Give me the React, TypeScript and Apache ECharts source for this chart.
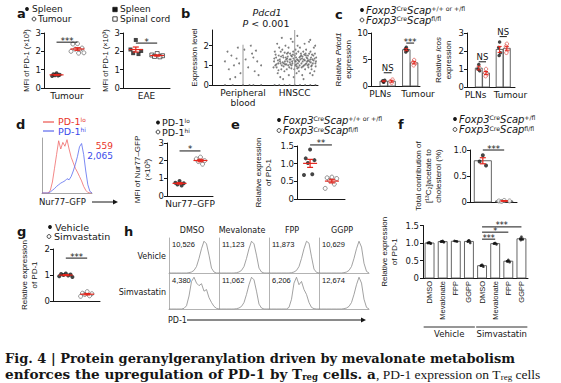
import React, { useEffect, useRef } from "react";
import * as echarts from "echarts";

// ===== Panel a: MFI of PD-1 (x10^3) =====
const aTumourSpleen = [0.8, 0.75, 0.72, 0.7, 0.68, 0.65];
const aTumourTumour = [2.42, 2.4, 2.18, 2.12, 2.08, 2.0, 1.92, 1.9];
const aEaeSpleen = [2.62, 2.1, 2.02, 1.9, 1.85];
const aEaeSpinalCord = [1.88, 1.8, 1.76, 1.72, 1.7];
const aYTicks = [0, 1, 2, 3];

// ===== Panel b: Pdcd1 expression level, [jitter, expression] =====
const bCategories = ["Peripheral\nblood", "HNSCC"];
const bBlood = [
  [-0.7, 1.2], [-0.55, 0.8], [-0.45, 1.5], [-0.35, 1.0], [-0.2, 1.9], [-0.1, 0.6], [0.1, 1.3], [0.2, 0.9],
  [0.35, 1.6], [0.45, 0.7], [0.55, 1.2], [0.7, 1.0], [-0.6, 1.7], [-0.3, 0.4], [0.3, 2.0], [0.6, 0.5],
  [-0.15, 1.1], [0.05, 1.8], [0.4, 1.4], [-0.5, 0.3], [0.0, 0.0], [-0.4, 0.0], [0.4, 0.0], [-0.7, 0.0],
  [0.7, 0.0], [0.25, 0.0], [-0.25, 1.35], [0.5, 1.75],
];
const bHnscc = [
  [-0.8, 1.2], [-0.7, 0.9], [-0.62, 1.5], [-0.55, 1.1], [-0.48, 1.8], [-0.4, 0.7], [-0.33, 1.3], [-0.25, 1.0],
  [-0.18, 1.6], [-0.1, 1.2], [-0.02, 0.8], [0.05, 1.4], [0.12, 1.1], [0.2, 1.9], [0.27, 0.9], [0.35, 1.3],
  [0.42, 1.6], [0.5, 1.0], [0.57, 1.2], [0.65, 0.8], [0.72, 1.5], [0.8, 1.1], [-0.77, 1.7], [-0.66, 0.6],
  [-0.58, 1.3], [-0.5, 1.0], [-0.44, 1.4], [-0.36, 2.0], [-0.28, 1.2], [-0.21, 0.9], [-0.14, 1.5], [-0.06, 1.7],
  [0.02, 1.0], [0.09, 1.3], [0.16, 0.7], [0.24, 1.6], [0.31, 1.2], [0.38, 2.1], [0.46, 1.4], [0.53, 0.9],
  [0.61, 1.7], [0.68, 1.3], [0.76, 0.7], [0.83, 1.4], [-0.82, 0.9], [-0.72, 1.4], [-0.6, 1.9], [-0.52, 0.8],
  [-0.42, 1.1], [-0.3, 1.6], [-0.23, 0.5], [-0.16, 1.3], [-0.08, 2.2], [0.0, 1.5], [0.07, 0.6], [0.14, 1.7],
  [0.22, 1.3], [0.29, 0.5], [0.36, 1.0], [0.44, 1.8], [0.51, 1.5], [0.59, 0.6], [0.66, 1.0], [0.74, 1.9],
  [0.82, 1.2], [-0.75, 1.0], [-0.64, 1.1], [-0.56, 0.4], [-0.46, 1.5], [-0.38, 1.2], [-0.31, 0.8], [-0.24, 1.9],
  [-0.12, 1.0], [-0.04, 0.4], [0.04, 1.2], [0.11, 2.0], [0.18, 1.4], [0.26, 1.1], [0.33, 1.7], [0.4, 0.8],
  [0.48, 1.2], [0.55, 2.2], [0.63, 1.4], [0.7, 1.1], [0.78, 1.6], [-0.68, 2.1], [-0.54, 1.7], [-0.45, 0.3],
  [-0.35, 1.4], [-0.2, 1.3], [-0.09, 1.1], [0.03, 1.8], [0.15, 0.9], [0.25, 1.5], [0.34, 0.3], [0.45, 1.1],
  [0.56, 1.6], [0.69, 0.5], [0.79, 2.0], [-0.78, 0.0], [-0.6, 0.0], [-0.4, 0.0], [-0.2, 0.0], [0.0, 0.0],
  [0.2, 0.0], [0.4, 0.0], [0.6, 0.0], [0.8, 0.0], [-0.5, 2.4], [0.1, 2.5], [0.6, 2.3], [-0.15, 2.35],
  [-0.65, 1.25], [-0.37, 1.05], [-0.11, 1.45], [0.13, 1.25], [0.37, 1.55], [0.62, 1.15], [0.08, 0.95], [-0.26, 1.65],
  [-0.79, 1.35], [-0.71, 1.05], [-0.63, 0.75], [-0.53, 1.45], [-0.47, 1.15], [-0.39, 1.65], [-0.32, 1.05], [-0.27, 1.45],
  [-0.19, 1.15], [-0.13, 0.85], [-0.05, 1.35], [0.01, 1.2], [0.06, 1.6], [0.1, 0.85], [0.17, 1.2], [0.21, 1.45],
  [0.28, 1.35], [0.32, 0.95], [0.39, 1.25], [0.43, 1.5], [0.49, 1.35], [0.54, 1.05], [0.6, 1.3], [0.67, 1.55],
  [0.73, 1.25], [0.81, 0.95], [-0.74, 1.55], [-0.57, 1.2], [-0.43, 0.95], [-0.29, 1.35], [-0.17, 1.05], [-0.07, 1.55],
  [0.05, 1.05], [0.19, 1.0], [0.3, 1.45], [0.41, 1.05], [0.52, 1.25], [0.64, 0.95], [0.77, 1.35], [-0.01, 1.25],
];
const bLineTops = [2.05, 2.8];
const bYTicks = [0, 1, 2];

// ===== Panel c: relative expression (bars = means) =====
const cSites = ["PLNs", "Tumour"];
const cPdcd1Control = [[0.7, 1.0, 1.1, 0.8], [7.3, 7.0, 6.7, 6.4]];
const cPdcd1Scap = [[0.6, 0.9, 1.2], [4.9, 4.5, 4.2, 3.9]];
const cIcosControl = [[1.25, 1.0, 0.9], [2.5, 2.2, 1.9, 1.75]];
const cIcosScap = [[1.0, 0.8, 0.7, 0.6], [2.4, 2.25, 2.05, 1.9]];
const cPdcd1Ticks = [0, 5, 10];
const cIcosTicks = [0, 1, 2, 3];

// ===== Panel d =====
const dHistPd1Lo = [0, 0, 0, 0, 5, 20, 45, 70, 95, 80, 92, 85, 97, 80, 65, 55, 45, 38, 30, 22, 12, 5, 1, 0, 0];
const dHistPd1Hi = [0, 0, 0, 0, 2, 5, 8, 12, 15, 18, 20, 22, 26, 24, 30, 40, 52, 66, 84, 90, 70, 40, 15, 3, 0];
const dMfiLabels = ["559", "2,065"];
const dNur77Lo = [0.85, 0.75, 0.72, 0.65, 0.6];
const dNur77Hi = [2.2, 2.1, 2.0, 1.95, 1.8];
const dYTicks = [0, 1, 2, 3];

// ===== Panel e =====
const eControl = [1.4, 1.15, 1.1, 1.02, 0.7, 0.68];
const eScap = [0.62, 0.6, 0.58, 0.52, 0.42, 0.3];
const eYTicks = [0, 0.5, 1.0, 1.5];

// ===== Panel f =====
const fControl = [0.9, 0.78, 0.7];
const fScap = [0.03, 0.02, 0.02, 0.01];
const fYTicks = [0, 0.5, 1.0];

// ===== Panel g =====
const gVehicle = [1.06, 1.04, 1.02, 1.0, 0.98, 0.95, 0.92];
const gSimvastatin = [0.36, 0.3, 0.28, 0.25, 0.2, 0.18];
const gYTicks = [0, 1, 2];

// ===== Panel h =====
const hTreatments = ["DMSO", "Mevalonate", "FPP", "GGPP"];
const hConditions = ["Vehicle", "Simvastatin"];
const hMfi = [
  ["10,526", "11,123", "11,873", "10,629"],
  ["4,380", "11,062", "6,206", "12,674"],
];
const hHist = [
  [
    [0, 0, 0, 0, 0, 0, 0, 0, 1, 3, 8, 20, 45, 75, 98, 90, 55, 15, 3, 0, 0],
    [0, 0, 0, 0, 0, 0, 0, 1, 3, 8, 20, 45, 75, 98, 90, 55, 15, 3, 0, 0, 0],
    [0, 0, 0, 0, 0, 0, 0, 0, 0, 1, 3, 8, 20, 45, 75, 98, 92, 50, 12, 2, 0],
    [0, 0, 0, 0, 0, 0, 0, 0, 0, 0, 1, 3, 8, 20, 45, 75, 98, 80, 30, 5, 0],
  ],
  [
    [0, 0, 0, 0, 0, 0, 2, 10, 40, 85, 98, 80, 72, 78, 55, 60, 35, 20, 8, 2, 0],
    [0, 0, 0, 0, 0, 0, 0, 1, 3, 8, 20, 45, 75, 98, 90, 55, 15, 3, 0, 0, 0],
    [0, 0, 0, 0, 0, 0, 0, 0, 5, 30, 80, 98, 75, 85, 60, 45, 20, 5, 1, 0, 0],
    [0, 0, 0, 0, 0, 0, 0, 0, 0, 0, 1, 3, 8, 20, 45, 75, 98, 80, 30, 5, 0],
  ],
];
const hBarPoints = [
  [1.02, 1.0, 0.98, 1.01, 0.99, 1.0],
  [1.06, 1.04, 1.02, 1.05, 1.03, 1.04],
  [1.05, 1.06, 1.04],
  [1.08, 1.04, 1.0, 1.06],
  [0.38, 0.35, 0.32, 0.36],
  [1.0, 0.98, 0.96, 0.99],
  [0.52, 0.48, 0.45, 0.47],
  [1.18, 1.12, 1.1, 1.08],
];
const hYTicks = [0, 0.5, 1.0, 1.5];
const hSig = [
  [4, 7, 1.46, "***"],
  [4, 6, 1.31, "*"],
  [4, 5, 1.11, "***"],
];

// ===== styling =====
const INK = "#161616";
const RED = "#e4261d";
const GREY = "#8f8f8f";
const HF = "'DejaVu Sans', 'Liberation Sans', sans-serif";
const VF = "'Liberation Sans', Arial, sans-serif";
const SERIF = "'DejaVu Serif', 'Liberation Serif', serif";
const SERIF_R = "'Liberation Serif', 'DejaVu Serif', serif";
const JIT = [0, -1, 1, -0.5, 0.5, -1.4, 1.4, 0.25];

function meanSem(v: number[]) {
  const n = v.length;
  const m = v.reduce((s, x) => s + x, 0) / n;
  const sd = Math.sqrt(v.reduce((s, x) => s + (x - m) ** 2, 0) / Math.max(1, n - 1));
  return [m, sd / Math.sqrt(n)];
}

const fmt1 = (v: number) => (v === 0 ? "0" : v.toFixed(1));

function buildOption() {
  const grid: any[] = [];
  const xAxis: any[] = [];
  const yAxis: any[] = [];
  const series: any[] = [];
  const els: any[] = [];

  const nameRich = (size: number) => ({
    i: { fontStyle: "italic", fontSize: size, fontFamily: VF, color: INK, lineHeight: 10 },
    n: { fontSize: size, fontFamily: VF, color: INK, lineHeight: 10 },
  });

  function panel(p: any) {
    const gi = grid.length;
    grid.push({ left: p.l, top: p.t, width: p.w, height: p.h });
    const lc = p.lineColor || INK;
    const lw = p.lineWidth || 1;
    xAxis.push({
      gridIndex: gi, type: "value", min: p.xmin, max: p.xmax,
      splitLine: { show: false },
      axisLine: { show: true, onZero: false, lineStyle: { color: lc, width: lw } },
      axisTick: { show: false },
      axisLabel: p.xlabels
        ? {
            show: true,
            showMinLabel: true, showMaxLabel: true, hideOverlap: false,
            customValues: p.xlabels.map((d: any) => d[0]),
            formatter: (v: number) => {
              const f = p.xlabels.find((d: any) => Math.abs(d[0] - v) < 1e-6);
              return f ? f[1] : "";
            },
            fontSize: p.xfs || 9, fontFamily: p.xff || HF, color: INK,
            margin: p.xmargin ?? 3, rotate: p.xrot || 0, lineHeight: 10,
          }
        : { show: false },
    });
    yAxis.push({
      gridIndex: gi, type: "value", min: p.ymin, max: p.ymax,
      splitLine: { show: false },
      axisLine: { show: true, onZero: false, lineStyle: { color: lc, width: lw } },
      axisTick: p.yticks
        ? { show: true, length: 3, customValues: p.yticks, lineStyle: { color: lc, width: lw } }
        : { show: false },
      axisLabel: p.yticks
        ? { show: true, showMinLabel: true, showMaxLabel: true, customValues: p.yticks,
            formatter: p.yfmt || ((v: number) => String(v)),
            fontSize: 8.5, fontFamily: HF, color: INK, margin: p.ymargin ?? 3 }
        : { show: false },
      name: p.yname || "", nameLocation: "middle", nameGap: p.ynameGap || 14, nameRotate: 90,
      nameTextStyle: { fontSize: p.ynameSize || 8, fontFamily: VF, color: INK, lineHeight: 10, rich: nameRich(p.ynameSize || 8) },
    });
    return gi;
  }

  function dots(gi: number, cx: number, vals: number[], o: any = {}) {
    const c = o.color || INK;
    series.push({
      type: "scatter", xAxisIndex: gi, yAxisIndex: gi, silent: true, z: 3,
      symbol: o.square ? "rect" : "circle", symbolSize: o.size || 4,
      itemStyle: { color: o.hollow ? "#fff" : c, borderColor: c, borderWidth: o.hollow ? 0.8 : 0 },
      data: vals.map((v, i) => [cx + JIT[i % JIT.length] * (o.spread ?? 0.2), v]),
    });
  }

  function meanMark(gi: number, cx: number, vals: number[], o: any = {}) {
    const [m, s] = meanSem(vals);
    const color = o.color || RED;
    const halfW = o.halfW ?? 7;
    const cap = o.cap ?? 3;
    const lw = o.lw ?? 1.2;
    series.push({
      type: "custom", xAxisIndex: gi, yAxisIndex: gi, silent: true, z: 6,
      data: [[cx, m, s]],
      renderItem: (_p: any, api: any) => {
        const x = api.value(0), mv = api.value(1), sv = api.value(2);
        const c = api.coord([x, mv]);
        const hi = api.coord([x, mv + sv]);
        const lo = api.coord([x, mv - sv]);
        const st = { stroke: color, lineWidth: lw };
        const ch: any[] = [
          { type: "line", shape: { x1: c[0], y1: hi[1], x2: c[0], y2: lo[1] }, style: st },
          { type: "line", shape: { x1: c[0] - cap, y1: hi[1], x2: c[0] + cap, y2: hi[1] }, style: st },
          { type: "line", shape: { x1: c[0] - cap, y1: lo[1], x2: c[0] + cap, y2: lo[1] }, style: st },
        ];
        if (halfW > 0) ch.push({ type: "line", shape: { x1: c[0] - halfW, y1: c[1], x2: c[0] + halfW, y2: c[1] }, style: st });
        return { type: "group", children: ch };
      },
    });
  }

  function bars(gi: number, items: number[][], halfW: number) {
    series.push({
      type: "custom", xAxisIndex: gi, yAxisIndex: gi, silent: true, z: 2,
      data: items,
      renderItem: (_p: any, api: any) => {
        const x = api.value(0), v = api.value(1);
        const a = api.coord([x - halfW, v]);
        const b = api.coord([x + halfW, 0]);
        return { type: "rect", shape: { x: a[0], y: a[1], width: b[0] - a[0], height: b[1] - a[1] },
          style: { fill: "#fff", stroke: "#555", lineWidth: 0.9 } };
      },
    });
  }

  function sig(gi: number, x1: number, x2: number, y: number, text: string, size = 8.5) {
    series.push({
      type: "custom", xAxisIndex: gi, yAxisIndex: gi, silent: true, z: 6,
      data: [[x1, x2, y]],
      renderItem: (_p: any, api: any) => {
        const a = api.coord([api.value(0), api.value(2)]);
        const b = api.coord([api.value(1), api.value(2)]);
        return {
          type: "group",
          children: [
            { type: "line", shape: { x1: a[0], y1: a[1], x2: b[0], y2: b[1] }, style: { stroke: INK, lineWidth: 1 } },
            { type: "text", x: (a[0] + b[0]) / 2, y: a[1] + (text.startsWith("*") ? 3 : -0.5),
              style: { text, fill: INK, fontSize: size, fontFamily: HF, align: "center", textAlign: "center",
                verticalAlign: "bottom", textVerticalAlign: "bottom" } },
          ],
        };
      },
    });
  }

  function curve(gi: number, ys: number[], color: string, width = 0.8) {
    series.push({
      type: "line", xAxisIndex: gi, yAxisIndex: gi, silent: true, z: 2, showSymbol: false, symbol: "none",
      lineStyle: { color, width }, data: ys.map((y, i) => [i, y]),
    });
  }

  const T = (x: number, y: number, text: string, o: any = {}) => ({
    type: "text", x, y, silent: true, z: 20,
    style: {
      text, fill: o.fill || INK, fontSize: o.size || 9, fontFamily: o.font || HF,
      fontWeight: o.weight || "normal", fontStyle: o.fstyle || "normal",
      align: o.align || "left", textAlign: o.align || "left",
      verticalAlign: o.va || "middle", textVerticalAlign: o.va || "middle",
      rich: o.rich,
    },
  });
  const legRich = (size: number, fill = INK) => ({
    i: { fontStyle: "italic", fontSize: size, fontFamily: HF, fill, color: fill, lineHeight: 9 },
    n: { fontSize: size, fontFamily: HF, fill, color: fill, lineHeight: 9 },
    s: { fontSize: size * 0.62, fontFamily: HF, fill, color: fill, verticalAlign: "top", lineHeight: 9 },
  });
  const dot = (x: number, y: number) => ({ type: "circle", shape: { cx: x, cy: y, r: 1.9 }, style: { fill: INK }, silent: true, z: 20 });
  const ring = (x: number, y: number) => ({ type: "circle", shape: { cx: x, cy: y, r: 1.9 }, style: { fill: "#fff", stroke: INK, lineWidth: 0.8 }, silent: true, z: 20 });
  const sq = (x: number, y: number, filled: boolean) => ({ type: "rect", shape: { x: x - 2.2, y: y - 2.2, width: 4.4, height: 4.4 }, style: { fill: filled ? INK : "#fff", stroke: INK, lineWidth: 0.8 }, silent: true, z: 20 });
  const letter = (x: number, y: number, t: string) => T(x, y, t, { size: 13, weight: "bold" });

  // ----- Panel a -----
  const a1 = panel({ l: 44, t: 33, w: 46, h: 55, xmin: 0.4, xmax: 2.6, xlabels: [[1.5, "Tumour"]],
    ymin: 0, ymax: 3, yticks: aYTicks, yname: "MFI of PD-1 (×10³)", ynameGap: 13, ynameSize: 7.5 });
  dots(a1, 1, aTumourSpleen, { spread: 0.15 });
  dots(a1, 2, aTumourTumour, { hollow: true, color: "#555", spread: 0.22 });
  meanMark(a1, 1, aTumourSpleen);
  meanMark(a1, 2, aTumourTumour);
  sig(a1, 1, 2, 2.5, "***");
  const a2 = panel({ l: 123, t: 33, w: 47, h: 55, xmin: 0.4, xmax: 2.6, xlabels: [[1.5, "EAE"]],
    ymin: 0, ymax: 3, yticks: aYTicks, yname: "MFI of PD-1 (×10³)", ynameGap: 11, ynameSize: 7.5 });
  dots(a2, 1, aEaeSpleen, { square: true, spread: 0.25 });
  dots(a2, 2, aEaeSpinalCord, { square: true, hollow: true, spread: 0.25 });
  meanMark(a2, 1, aEaeSpleen);
  meanMark(a2, 2, aEaeSpinalCord);
  sig(a2, 1, 2, 2.45, "*");
  els.push(letter(17, 13, "a"));
  els.push(dot(27, 9), T(32, 9, "Spleen", { size: 9 }));
  els.push(ring(34, 19), T(38, 19, "Tumour", { size: 9 }));
  els.push(sq(115, 9.5, true), T(120, 9, "Spleen", { size: 9 }));
  els.push(sq(115, 19, false), T(120, 19, "Spinal cord", { size: 9 }));

  // ----- Panel b -----
  const bPos = [1.2, 3.2];
  const b1 = panel({ l: 212, t: 30, w: 106, h: 55, xmin: 0, xmax: 4.1,
    xlabels: bCategories.map((c, i) => [bPos[i], c]), ymin: 0, ymax: 2.8, yticks: bYTicks,
    yname: "Expression level", ynameGap: 13, ynameSize: 8 });
  series.push({
    type: "scatter", xAxisIndex: b1, yAxisIndex: b1, silent: true, z: 2, symbol: "circle", symbolSize: 1.9,
    itemStyle: { color: "#5c5c5c" },
    data: [...bBlood.map((d) => [bPos[0] + d[0], d[1]]), ...bHnscc.map((d) => [bPos[1] + d[0], d[1]])],
  });
  bPos.forEach((p, i) => {
    series.push({
      type: "line", xAxisIndex: b1, yAxisIndex: b1, silent: true, z: 3, showSymbol: false, symbol: "none",
      lineStyle: { color: "#9a9a9a", width: 1 }, data: [[p, 0], [p, bLineTops[i]]],
    });
  });
  els.push(letter(181, 13, "b"));
  els.push(T(267, 12, "Pdcd1", { size: 9.5, fstyle: "italic", align: "center" }));
  els.push(T(266, 23.5, "{i|P} {n|< 0.001}", { size: 9.5, align: "center", rich: legRich(9.5) }));

  // ----- Panel c -----
  const cCenter = [1.7, 4.0];
  const cLabelPos = [0.95, 4.8];
  const cOff = 0.4;
  const cHalf = 0.38;
  const c1 = panel({ l: 371, t: 33, w: 49, h: 53, xmin: 0, xmax: 5,
    xlabels: cSites.map((s, i) => [cLabelPos[i], s]), ymin: 0, ymax: 10, yticks: cPdcd1Ticks,
    yname: "{n|Relative }{i|Pdcd1}\n{n|expression}", ynameGap: 15, ynameSize: 8 });
  const c2 = panel({ l: 467, t: 33, w: 48, h: 54, xmin: 0, xmax: 5.3,
    xlabels: cSites.map((s, i) => [cLabelPos[i], s]), ymin: 0, ymax: 3, yticks: cIcosTicks,
    yname: "{n|Relative }{i|Icos}\n{n|expression}", ynameGap: 14, ynameSize: 8 });
  [[c1, cPdcd1Control, cPdcd1Scap], [c2, cIcosControl, cIcosScap]].forEach(([gi, ctrl, ko]: any) => {
    bars(gi, cCenter.flatMap((c, i) => [[c - cOff, meanSem(ctrl[i])[0]], [c + cOff, meanSem(ko[i])[0]]]), cHalf);
    cCenter.forEach((c, i) => {
      dots(gi, c - cOff, ctrl[i], { spread: 0.1, size: 3.5 });
      dots(gi, c + cOff, ko[i], { hollow: true, color: "#d8403a", spread: 0.1, size: 3.5 });
      meanMark(gi, c - cOff, ctrl[i], { halfW: 0, cap: 2, lw: 1 });
      meanMark(gi, c + cOff, ko[i], { halfW: 0, cap: 2, lw: 1 });
    });
  });
  sig(c1, cCenter[0] - cOff, cCenter[0] + cOff, 2.5, "NS", 8.5);
  sig(c1, cCenter[1] - cOff, cCenter[1] + cOff, 8.1, "***");
  sig(c2, cCenter[0] - cOff, cCenter[0] + cOff, 1.4, "NS", 8.5);
  sig(c2, cCenter[1] - cOff, cCenter[1] + cOff, 2.8, "NS", 8.5);
  els.push(letter(335, 14, "c"));
  const fox = (g: string) => `{i|Foxp3}{s|Cre}{i|Scap}{s|${g}}`;
  els.push(dot(362, 10), T(366, 10, fox("+/+ or +/fl"), { size: 10, rich: legRich(10) }));
  els.push(ring(362, 20), T(366, 20, fox("fl/fl"), { size: 10, rich: legRich(10) }));

  // ----- Panel d -----
  const d1 = panel({ l: 42, t: 138, w: 50, h: 55, xmin: 0, xmax: dHistPd1Lo.length - 1, ymin: 0, ymax: 100,
    lineColor: GREY, lineWidth: 0.8 });
  curve(d1, dHistPd1Lo, "#f06a6a", 0.8);
  curve(d1, dHistPd1Hi, "#5a6cf0", 0.8);
  els.push(T(113, 146, dMfiLabels[0], { size: 9, fill: "#e8332a", align: "right" }));
  els.push(T(113, 156, dMfiLabels[1], { size: 9, fill: "#3a4bea", align: "right" }));
  els.push(T(39, 202, "Nur77–GFP", { size: 8.5 }));
  els.push({ type: "line", shape: { x1: 92, y1: 202, x2: 114, y2: 202 }, style: { stroke: INK, lineWidth: 1 }, silent: true, z: 20 });
  els.push({ type: "polygon", shape: { points: [[113, 199.5], [118, 202], [113, 204.5]] }, style: { fill: INK }, silent: true, z: 20 });
  els.push(letter(16, 124, "d"));
  els.push({ type: "line", shape: { x1: 43, y1: 122, x2: 54, y2: 122 }, style: { stroke: "#e8332a", lineWidth: 1 }, silent: true, z: 20 });
  els.push(T(58, 121.5, "{n|PD-1}{s|lo}", { size: 9.5, fill: "#e8332a", rich: legRich(9.5, "#e8332a") }));
  els.push({ type: "line", shape: { x1: 43, y1: 131, x2: 54, y2: 131 }, style: { stroke: "#3a4bea", lineWidth: 1 }, silent: true, z: 20 });
  els.push(T(58, 131, "{n|PD-1}{s|hi}", { size: 9.5, fill: "#3a4bea", rich: legRich(9.5, "#3a4bea") }));

  const d2 = panel({ l: 167, t: 143, w: 46, h: 53, xmin: 0.4, xmax: 2.6, xlabels: [[1.5, "Nur77–GFP"]],
    ymin: 0, ymax: 3, yticks: dYTicks, yname: "MFI of Nur77–GFP\n(×10³)", ynameGap: 15, ynameSize: 8 });
  dots(d2, 1, dNur77Lo, { spread: 0.2 });
  dots(d2, 2, dNur77Hi, { hollow: true, color: "#555", spread: 0.2 });
  meanMark(d2, 1, dNur77Lo);
  meanMark(d2, 2, dNur77Hi);
  sig(d2, 1, 2, 2.55, "*");
  els.push(dot(158, 122.5), T(162, 122.5, "{n|PD-1}{s|lo}", { size: 9.5, rich: legRich(9.5) }));
  els.push(ring(158, 132), T(162, 132, "{n|PD-1}{s|hi}", { size: 9.5, rich: legRich(9.5) }));

  // ----- Panel e -----
  const e1 = panel({ l: 297, t: 146, w: 48, h: 53, xmin: 0.4, xmax: 2.6, ymin: 0, ymax: 1.5,
    yticks: eYTicks, yfmt: fmt1, yname: "Relative expression\nof PD-1", ynameGap: 24, ynameSize: 8 });
  dots(e1, 1, eControl, { spread: 0.2 });
  dots(e1, 2, eScap, { hollow: true, color: "#555", spread: 0.22 });
  meanMark(e1, 1, eControl);
  meanMark(e1, 2, eScap);
  sig(e1, 1, 2, 1.53, "**");
  els.push(letter(231, 124, "e"));
  els.push(dot(279, 120), T(283, 120, fox("+/+ or +/fl"), { size: 10, rich: legRich(10) }));
  els.push(ring(279, 130.5), T(283, 130.5, fox("fl/fl"), { size: 10, rich: legRich(10) }));

  // ----- Panel f -----
  const f1 = panel({ l: 470, t: 150, w: 47, h: 52, xmin: 0.4, xmax: 2.6, ymin: 0, ymax: 1.0,
    yticks: fYTicks, yfmt: fmt1, yname: "Total contribution of\n[¹³C₂]acetate to\ncholesterol (%)", ynameGap: 27, ynameSize: 8 });
  bars(f1, [[1, meanSem(fControl)[0]], [2, meanSem(fScap)[0]]], 0.4);
  dots(f1, 1, fControl, { spread: 0.15 });
  dots(f1, 2, fScap, { hollow: true, color: "#666", spread: 0.25 });
  meanMark(f1, 1, fControl, { halfW: 0, cap: 3 });
  meanMark(f1, 2, fScap, { halfW: 4 });
  sig(f1, 1, 2, 1.0, "***");
  els.push(letter(398, 124, "f"));
  els.push(dot(455, 119), T(459, 119, fox("+/fl"), { size: 10, rich: legRich(10) }));
  els.push(ring(455, 129.5), T(459, 129.5, fox("fl/fl"), { size: 10, rich: legRich(10) }));

  // ----- Panel g -----
  const g1 = panel({ l: 53, t: 249, w: 47, h: 52, xmin: 0.4, xmax: 2.6, ymin: 0, ymax: 2,
    yticks: gYTicks, yname: "Relative expression\nof PD-1", ynameGap: 14, ynameSize: 8 });
  dots(g1, 1, gVehicle, { spread: 0.22 });
  dots(g1, 2, gSimvastatin, { hollow: true, color: "#555", spread: 0.22 });
  meanMark(g1, 1, gVehicle);
  meanMark(g1, 2, gSimvastatin);
  sig(g1, 1, 2, 1.65, "***");
  els.push(letter(17, 231, "g"));
  els.push(dot(50, 227), T(55, 227, "Vehicle", { size: 9.5 }));
  els.push(ring(49, 236.5), T(54, 236.5, "Simvastatin", { size: 9.5 }));

  // ----- Panel h (histograms) -----
  const colL = [169, 219, 269, 319];
  const rowT = [238, 274];
  hConditions.forEach((cond, r) => {
    els.push(T(166, rowT[r] + 18, cond, { size: 8, align: "right" }));
    hTreatments.forEach((_t, c) => {
      const gi = panel({ l: colL[c], t: rowT[r], w: 50, h: 35, xmin: 0, xmax: hHist[r][c].length - 1,
        ymin: 0, ymax: 108, lineColor: "#a0a0a0", lineWidth: 0.8 });
      curve(gi, hHist[r][c], "#8a8a8a", 0.8);
      els.push(T(colL[c] + 3, rowT[r] + 6, hMfi[r][c], { size: 7.5, font: VF }));
    });
  });
  hTreatments.forEach((t, c) => els.push(T(colL[c] + 23, 230, t, { size: 8, align: "center" })));
  els.push(letter(124, 231, "h"));
  els.push(T(168, 320, "PD-1", { size: 8 }));
  els.push({ type: "line", shape: { x1: 187, y1: 320, x2: 362, y2: 320 }, style: { stroke: INK, lineWidth: 1 }, silent: true, z: 20 });
  els.push({ type: "polygon", shape: { points: [[361, 317.5], [366, 320], [361, 322.5]] }, style: { fill: INK }, silent: true, z: 20 });

  // ----- Panel h (bar chart) -----
  const hCats = [...hTreatments, ...hTreatments];
  const h1 = panel({ l: 423, t: 225.5, w: 105, h: 52.5, xmin: -0.5, xmax: 7.5,
    xlabels: hCats.map((c, i) => [i, c]), xrot: 90, xfs: 7.5, xff: VF, xmargin: 3,
    ymin: 0, ymax: 1.5, yticks: hYTicks, yfmt: fmt1, ymargin: 4,
    yname: "Relative expression\nof PD-1", ynameGap: 24, ynameSize: 8 });
  bars(h1, hBarPoints.map((v, i) => [i, meanSem(v)[0]]), 0.34);
  hBarPoints.forEach((v, i) => {
    dots(h1, i, v, { size: 2.6, spread: 0.1 });
    meanMark(h1, i, v, { color: INK, halfW: 0, cap: 2, lw: 0.9 });
  });
  hSig.forEach((s: any) => sig(h1, s[0], s[1], s[2], s[3], 8));
  series.push({
    type: "custom", xAxisIndex: h1, yAxisIndex: h1, silent: true, z: 6,
    data: [[-0.45, 3.45, 0], [3.55, 7.45, 0]],
    renderItem: (p: any, api: any) => {
      const a = api.coord([api.value(0), api.value(2)]);
      const b = api.coord([api.value(1), api.value(2)]);
      return {
        type: "group",
        children: [
          { type: "line", shape: { x1: a[0], y1: a[1] + 49, x2: b[0], y2: a[1] + 49 }, style: { stroke: INK, lineWidth: 0.9 } },
          { type: "text", x: (a[0] + b[0]) / 2, y: a[1] + 56, style: { text: hConditions[p.dataIndex], fill: INK, fontSize: 8.5,
            fontFamily: HF, align: "center", textAlign: "center", verticalAlign: "middle", textVerticalAlign: "middle" } },
        ],
      };
    },
  });

  // ----- Caption -----
  const capRich = {
    b: { fontFamily: SERIF, fontWeight: "bold", fontSize: 13, fill: INK, color: INK },
    b2: { fontFamily: SERIF, fontWeight: "bold", fontSize: 13.6, fill: INK, color: INK },
    bs: { fontFamily: SERIF, fontWeight: "bold", fontSize: 8.5, fill: INK, color: INK, verticalAlign: "bottom" },
    r: { fontFamily: SERIF_R, fontSize: 13.5, fill: INK, color: INK },
    rs: { fontFamily: SERIF_R, fontSize: 9, fill: INK, color: INK, verticalAlign: "bottom" },
  };
  els.push(T(5, 358, "{b|Fig. 4 | Protein geranylgeranylation driven by mevalonate metabolism}", { rich: capRich }));
  els.push(T(5, 374, "{b2|enforces the upregulation of PD-1 by T}{bs|reg}{b2| cells. a}{r|, PD-1 expression on T}{rs|reg}{r| cells}", { rich: capRich }));

  return {
    animation: false,
    backgroundColor: "#ffffff",
    grid, xAxis, yAxis, series,
    graphic: { elements: els },
  };
}

export default function App() {
  const ref = useRef<HTMLDivElement>(null);
  useEffect(() => {
    if (!ref.current) return;
    const chart = echarts.init(ref.current, null, { renderer: "svg", width: 561, height: 383 });
    chart.setOption(buildOption() as any);
    return () => chart.dispose();
  }, []);
  return (
    <div
      ref={ref}
      style={{ position: "absolute", left: 0, top: 0, width: 561, height: 383, background: "#fff" }}
    />
  );
}
